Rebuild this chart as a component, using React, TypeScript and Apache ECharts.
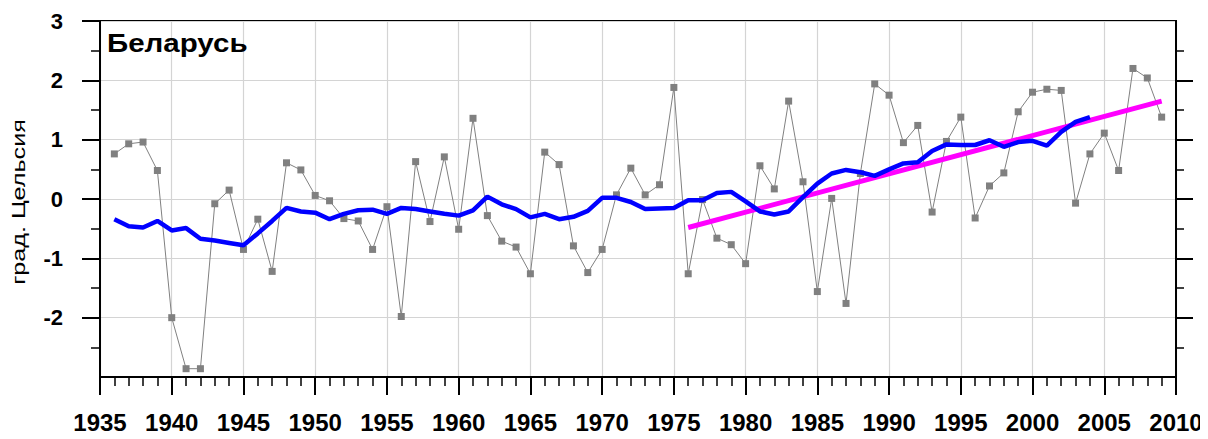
import React, { useEffect, useRef } from "react";
import * as echarts from "echarts";

const years = [
  1936, 1937, 1938, 1939, 1940, 1941, 1942, 1943, 1944, 1945,
  1946, 1947, 1948, 1949, 1950, 1951, 1952, 1953, 1954, 1955,
  1956, 1957, 1958, 1959, 1960, 1961, 1962, 1963, 1964, 1965,
  1966, 1967, 1968, 1969, 1970, 1971, 1972, 1973, 1974, 1975,
  1976, 1977, 1978, 1979, 1980, 1981, 1982, 1983, 1984, 1985,
  1986, 1987, 1988, 1989, 1990, 1991, 1992, 1993, 1994, 1995,
  1996, 1997, 1998, 1999, 2000, 2001, 2002, 2003, 2004, 2005,
  2006, 2007, 2008, 2009,
];

const anomalies = [
  0.76, 0.93, 0.96, 0.48, -2.0, -2.86, -2.86, -0.08, 0.15, -0.85,
  -0.34, -1.22, 0.61, 0.49, 0.06, -0.03, -0.33, -0.37, -0.85, -0.13,
  -1.98, 0.63, -0.38, 0.71, -0.51, 1.36, -0.28, -0.71, -0.81, -1.26,
  0.79, 0.58, -0.79, -1.24, -0.85, 0.07, 0.52, 0.07, 0.24, 1.88,
  -1.26, -0.01, -0.66, -0.77, -1.09, 0.56, 0.17, 1.65, 0.29, -1.56,
  0.01, -1.76, 0.43, 1.94, 1.75, 0.95, 1.24, -0.22, 0.97, 1.38,
  -0.32, 0.22, 0.44, 1.47, 1.8, 1.85, 1.83, -0.07, 0.76, 1.11,
  0.48, 2.2, 2.04, 1.38,
];

// moving average, 1936..2004
const smoothed = [
  -0.34, -0.46, -0.48, -0.37, -0.53, -0.49, -0.67, -0.7, -0.74, -0.78,
  -0.58, -0.37, -0.15, -0.21, -0.23, -0.34, -0.25, -0.19, -0.18, -0.25,
  -0.15, -0.17, -0.21, -0.25, -0.28, -0.19, 0.04, -0.09, -0.17, -0.31,
  -0.25, -0.34, -0.3, -0.2, 0.02, 0.02, -0.05, -0.17, -0.16, -0.15,
  -0.02, -0.02, 0.1, 0.12, -0.04, -0.21, -0.26, -0.21, 0.03, 0.26,
  0.43, 0.49, 0.45, 0.39, 0.5, 0.6, 0.62, 0.81, 0.92, 0.91,
  0.91, 0.99, 0.88, 0.96, 0.98, 0.9, 1.13, 1.3, 1.38,
];

const trendYears = [1976, 2009];
const trendValues = [-0.48, 1.65];

const leftTickValues = [-2, -1, 0, 1, 2, 3];
const rightTickValues = [-2, -1, 0, 1, 2];

const FONT = "'Liberation Sans', Arial, sans-serif";

export default function App() {
  const ref = useRef<HTMLDivElement>(null);

  useEffect(() => {
    if (!ref.current) return;
    const chart = echarts.init(ref.current, null, { renderer: "svg" });

    const greyData = years.map((y, i) => [y, anomalies[i]]);
    const blueData = smoothed.map((v, i) => [years[i], v]);
    const trendData = trendYears.map((y, i) => [y, trendValues[i]]);

    chart.setOption({
      animation: false,
      backgroundColor: "#fff",
      textStyle: { fontFamily: FONT },
      grid: {
        left: 100,
        right: 32,
        top: 21,
        height: 356,
        show: true,
        borderColor: "#000",
        borderWidth: 2,
        backgroundColor: "transparent",
      },
      graphic: [
        {
          type: "text",
          x: 107,
          y: 43,
          scaleX: 1.18,
          z: 10,
          style: {
            text: "Беларусь",
            fontSize: 25,
            fontWeight: "bold",
            fontFamily: FONT,
            fill: "#000",
            textAlign: "left",
            textVerticalAlign: "middle",
          },
        },
        {
          type: "text",
          x: 19,
          y: 202,
          rotation: Math.PI / 2,
          scaleX: 1.4,
          style: {
            text: "град. Цельсия",
            fontSize: 18,
            fontFamily: FONT,
            fill: "#000",
            textAlign: "center",
            textVerticalAlign: "middle",
          },
        },
      ],
      xAxis: {
        type: "value",
        min: 1935,
        max: 2010,
        interval: 5,
        axisLine: { show: true, onZero: false, lineStyle: { color: "#000", width: 2 } },
        axisTick: { show: true, length: 18, lineStyle: { color: "#000", width: 2 } },
        minorTick: { show: true, splitNumber: 5, length: 9, lineStyle: { color: "#000", width: 1.5 } },
        splitLine: { show: true, lineStyle: { color: "#d4d4d4", width: 1.2 } },
        axisLabel: {
          margin: 33,
          fontSize: 24,
          fontWeight: "bold",
          color: "#000",
          fontFamily: FONT,
          formatter: (v: number) => String(v),
        },
      },
      yAxis: [
        {
          type: "value",
          min: -3,
          max: 3,
          interval: 1,
          position: "left",
          axisLine: { show: true, onZero: false, lineStyle: { color: "#000", width: 2 } },
          axisTick: { show: true, length: 18, customValues: leftTickValues, lineStyle: { color: "#000", width: 2 } },
          minorTick: { show: true, splitNumber: 2, length: 9, lineStyle: { color: "#000", width: 1.5 } },
          splitLine: { show: true, lineStyle: { color: "#d4d4d4", width: 1.2 } },
          axisLabel: {
            margin: 37,
            fontSize: 22,
            fontWeight: "bold",
            color: "#000",
            fontFamily: FONT,
            customValues: leftTickValues,
          },
        },
        {
          type: "value",
          min: -3,
          max: 3,
          interval: 1,
          position: "right",
          axisLine: { show: true, onZero: false, lineStyle: { color: "#000", width: 2 } },
          axisTick: { show: true, length: 17, customValues: rightTickValues, lineStyle: { color: "#000", width: 2 } },
          minorTick: { show: true, splitNumber: 2, length: 8, lineStyle: { color: "#000", width: 1.5 } },
          splitLine: { show: false },
          axisLabel: { show: false },
        },
      ],
      series: [
        {
          name: "Аномалии",
          type: "line",
          data: greyData,
          symbol: "rect",
          symbolSize: 7,
          itemStyle: { color: "#808080" },
          lineStyle: { color: "#808080", width: 1 },
          z: 2,
        },
        {
          name: "Тренд",
          type: "line",
          data: trendData,
          symbol: "none",
          lineStyle: { color: "#ff00ff", width: 5 },
          z: 3,
        },
        {
          name: "Скользящее среднее",
          type: "line",
          data: blueData,
          symbol: "none",
          lineStyle: { color: "#0000ff", width: 4.5 },
          z: 4,
        },
      ],
    });

    return () => chart.dispose();
  }, []);

  return <div ref={ref} style={{ width: 1208, height: 439, margin: -8 }} />;
}
